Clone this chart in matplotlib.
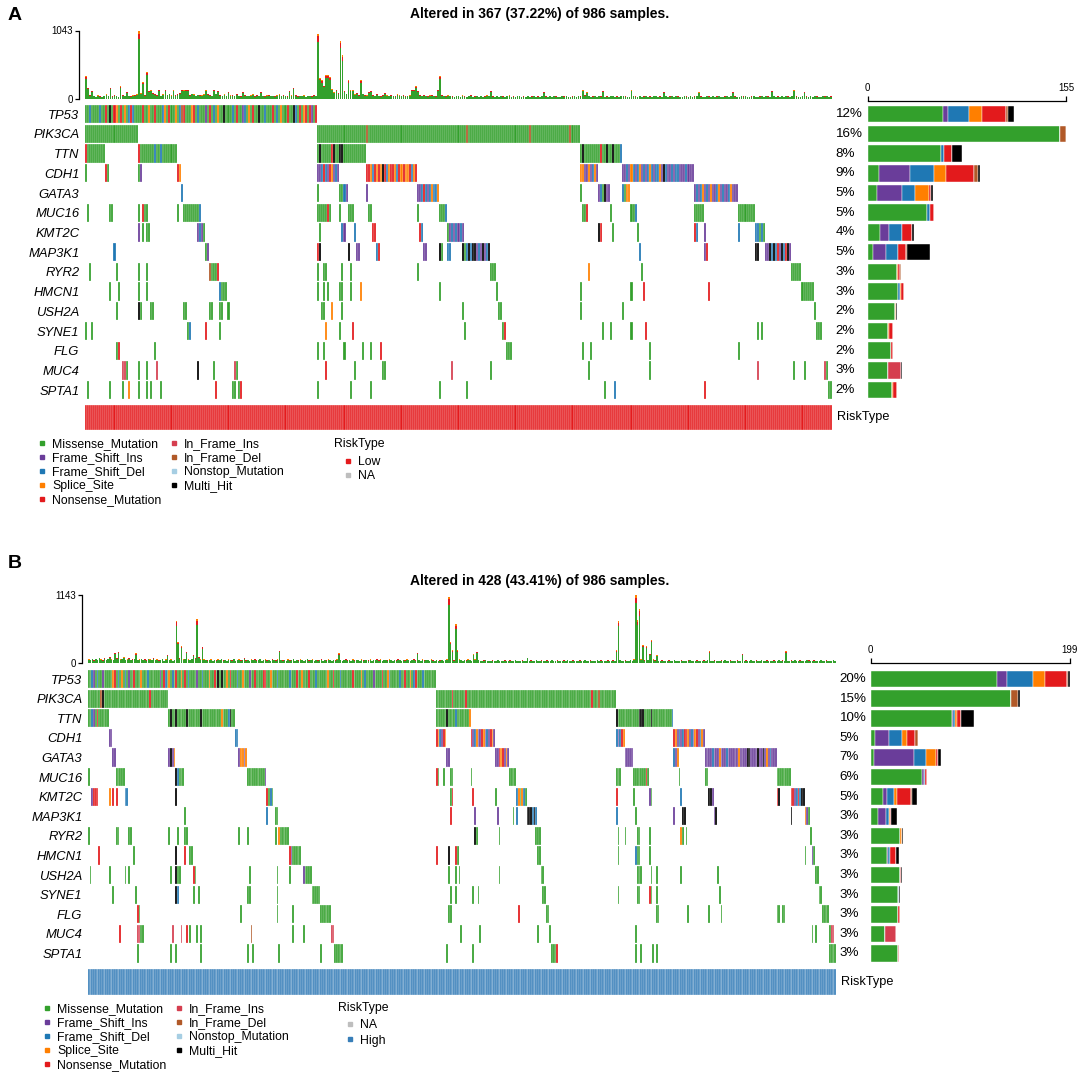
import matplotlib
matplotlib.use("Agg")
import matplotlib.pyplot as plt
from matplotlib.lines import Line2D
from matplotlib.transforms import blended_transform_factory
import numpy as np

plt.rcParams['font.family'] = ['Liberation Sans', 'DejaVu Sans']

# ---------------------------------------------------------------- data
GENES = ["TP53", "PIK3CA", "TTN", "CDH1", "GATA3", "MUC16", "KMT2C", "MAP3K1",
         "RYR2", "HMCN1", "USH2A", "SYNE1", "FLG", "MUC4", "SPTA1"]

TYPE_CODES = ["M", "I", "D", "S", "N", "P", "E", "T", "X"]
TYPE_NAMES = ["Missense_Mutation", "Frame_Shift_Ins", "Frame_Shift_Del", "Splice_Site",
              "Nonsense_Mutation", "In_Frame_Ins", "In_Frame_Del", "Nonstop_Mutation", "Multi_Hit"]
TYPE_COLORS = ["#33A02C", "#6A3D9A", "#1F78B4", "#FF7F00", "#E31A1C",
               "#D53E4F", "#B15928", "#A6CEE3", "#000000"]

RISK_LEVELS = ["Low", "High", "NA"]
RISK_COLORS = ["#E41A1C", "#377EB8", "#BEBEBE"]

N_A = 367
N_B = 428
TITLE_A = "Altered in 367 (37.22%) of 986 samples."
TITLE_B = "Altered in 428 (43.41%) of 986 samples."
TMB_MAX_A = 1043
TMB_MAX_B = 1143
BAR_MAX_A = 155
BAR_MAX_B = 199
PCT_A = [12, 16, 8, 9, 5, 5, 4, 5, 3, 3, 2, 2, 2, 3, 2]
PCT_B = [20, 15, 10, 5, 7, 6, 5, 3, 3, 3, 3, 3, 3, 3, 3]
RISK_A = ["Low"] * N_A
RISK_B = ["High"] * N_B
RISK_LEGEND_A = ["Low", "NA"]
RISK_LEGEND_B = ["NA", "High"]

# per-sample mutation burden (top bar plot)
TMB_A = [
    344, 172, 60, 120, 45, 30, 55, 40, 35, 50, 70, 45, 167, 40, 56, 50, 35, 192, 60, 45,
    106, 50, 40, 55, 60, 70, 1033, 85, 253, 60, 415, 120, 130, 90, 75, 60, 142, 50, 70, 142,
    65, 80, 55, 132, 60, 75, 90, 142, 130, 142, 135, 60, 80, 70, 50, 65, 60, 55, 70, 130,
    75, 60, 50, 142, 80, 120, 60, 50, 70, 45, 106, 55, 60, 45, 75, 50, 40, 106, 60, 50,
    45, 55, 70, 40, 60, 50, 106, 45, 40, 55, 60, 45, 50, 40, 55, 70, 45, 60, 50, 40,
    120, 55, 167, 60, 40, 50, 45, 55, 35, 50, 45, 40, 60, 50, 992, 324, 283, 200, 360, 370,
    334, 150, 100, 140, 90, 881, 663, 120, 80, 283, 130, 132, 70, 90, 60, 283, 80, 60, 55, 106,
    120, 60, 45, 75, 50, 40, 60, 90, 55, 45, 60, 50, 40, 70, 55, 45, 60, 40, 50, 55,
    142, 136, 192, 120, 60, 45, 56, 50, 40, 55, 60, 45, 40, 136, 344, 60, 50, 40, 55, 45,
    40, 35, 50, 45, 30, 55, 40, 35, 45, 60, 30, 40, 50, 35, 45, 30, 40, 55, 45, 120,
    40, 30, 45, 35, 50, 40, 30, 45, 55, 35, 40, 30, 45, 50, 35, 40, 30, 45, 35, 40,
    50, 35, 40, 30, 45, 110, 40, 35, 50, 30, 45, 40, 35, 30, 50, 40, 45, 35, 30, 40,
    45, 35, 50, 40, 130, 60, 100, 45, 35, 40, 50, 30, 45, 40, 120, 35, 40, 30, 45, 50,
    35, 40, 30, 45, 50, 40, 35, 30, 130, 45, 40, 35, 50, 30, 40, 45, 35, 40, 30, 50,
    45, 35, 40, 30, 110, 45, 35, 40, 50, 30, 45, 40, 35, 30, 50, 40, 35, 45, 30, 40,
    45, 100, 40, 35, 30, 45, 40, 35, 50, 30, 40, 45, 35, 30, 40, 50, 35, 45, 110, 40,
    35, 30, 45, 40, 50, 35, 30, 40, 45, 35, 30, 40, 50, 35, 45, 40, 30, 120, 45, 35,
    40, 30, 45, 35, 50, 40, 30, 45, 130, 40, 35, 30, 45, 110, 40, 35, 50, 30, 45, 40,
    35, 30, 45, 40, 50, 35, 40,
]
TMB_B = [
    60, 50, 75, 45, 70, 55, 90, 60, 45, 80, 55, 70, 100, 60, 50, 174, 85, 190, 60, 70,
    95, 55, 60, 80, 50, 65, 70, 162, 55, 60, 75, 50, 65, 45, 70, 60, 55, 80, 50, 60,
    45, 55, 70, 40, 60, 134, 50, 60, 40, 55, 711, 358, 80, 286, 60, 70, 190, 60, 55, 70,
    134, 80, 734, 100, 60, 274, 60, 50, 45, 55, 60, 40, 55, 45, 60, 50, 70, 45, 55, 40,
    60, 50, 45, 70, 40, 55, 60, 45, 50, 80, 45, 55, 40, 60, 50, 65, 45, 55, 70, 40,
    55, 60, 45, 50, 40, 65, 55, 45, 60, 207, 50, 45, 55, 40, 60, 45, 50, 70, 40, 55,
    45, 60, 50, 40, 55, 70, 45, 50, 60, 40, 55, 45, 50, 65, 40, 55, 45, 60, 50, 40,
    55, 45, 60, 162, 50, 40, 55, 65, 45, 50, 40, 60, 45, 55, 50, 40, 60, 45, 55, 50,
    45, 60, 40, 55, 50, 65, 45, 60, 40, 50, 55, 45, 60, 50, 40, 55, 45, 65, 50, 40,
    55, 45, 60, 50, 40, 55, 65, 45, 174, 50, 40, 60, 45, 55, 50, 40, 60, 45, 35, 50,
    40, 45, 55, 35, 50, 60, 1115, 355, 214, 45, 650, 218, 60, 50, 40, 55, 45, 60, 50, 40,
    146, 60, 185, 50, 40, 35, 45, 50, 30, 40, 35, 45, 30, 40, 50, 35, 40, 30, 45, 40,
    35, 45, 30, 40, 50, 35, 40, 30, 45, 35, 40, 90, 30, 45, 40, 35, 50, 30, 40, 45,
    35, 30, 45, 40, 35, 50, 30, 40, 45, 35, 40, 30, 45, 35, 50, 40, 30, 45, 35, 40,
    30, 45, 40, 35, 50, 30, 40, 45, 35, 30, 40, 50, 35, 45, 30, 40, 35, 45, 30, 40,
    45, 35, 214, 706, 50, 40, 35, 45, 30, 40, 50, 35, 60, 1143, 723, 902, 60, 297, 45, 280,
    50, 157, 392, 60, 45, 130, 40, 35, 45, 30, 40, 35, 45, 30, 40, 50, 35, 40, 30, 45,
    35, 40, 30, 45, 50, 35, 40, 30, 45, 35, 40, 30, 45, 35, 50, 196, 40, 30, 45, 35,
    40, 30, 45, 35, 50, 40, 30, 45, 35, 40, 30, 45, 35, 40, 157, 30, 45, 40, 35, 50,
    30, 40, 45, 35, 30, 50, 40, 35, 45, 30, 40, 35, 45, 30, 40, 50, 35, 45, 30, 196,
    40, 35, 45, 30, 50, 40, 35, 45, 30, 40, 35, 50, 45, 40, 35, 45, 30, 40, 35, 50,
    40, 35, 45, 30, 40, 35, 50, 40,
]
TMB_SHARE_MISSENSE = 0.88
TMB_SHARE_NONSENSE = 0.08

# oncoplot cells: "a-b:T" = samples a..b-1 of type T, "a:XYZ" = types from sample a on
A_TP53 = ["0:" + "MMDMMMMDMM" "NMXMNSMNMS" "MDNDMMMMNM" "MSMMNMMMDS" "MNMMSMDENM"
          "MMSNMDMMMI" "MNMDMSMMXM" "MMDMNMMIDM" "SMNMMXMMDM" "MMNMDMSMMN" "MMXDMNMSNM" "NIMN"]
A_PIK3CA = ["0-26:M", "114-243:M", "138:E", "187:E", "218:E", "238:E"]
A_TTN = ["0-10:M", "0:N", "26-45:M", "26:N", "34:D", "37:D", "114-138:M", "115:X", "121:NX",
         "125:XX", "243-264:M", "244:X", "253:N", "256:X", "259:X", "263:D"]
A_CDH1 = ["0:M", "10:NM", "26:MI", "45:NS", "114:IIDNDINSIDI", "138:NNSDNSNSXNDSNNSDNSNSSNDSN",
          "243:SSIISIDSI", "264:IIDISDIDSIDIDSDIDDSIXDIIDIDDIIIDIII"]
A_GATA3 = ["47:D", "114:M", "125:MMDI", "138:I", "163:IIDNDIDSDDS", "243:M", "252:IDMXII",
           "264:DMSS", "299:IDIDSIDISIIDSIDIIDSIII"]
A_MUC16 = ["1:M", "12-14:M", "26:M", "28:N", "29:MM", "45:M", "48-57:M", "56:D", "114-121:M",
           "119:N", "125:M", "129-132:M", "139-141:M", "163:M", "174-178:M", "177:D", "244-247:M",
           "246:N", "258:M", "268-271:M", "270:D", "299-304:M", "321-329:M"]
A_KMT2C = ["26:I", "28:M", "30:MM", "55:IDIM", "115:M", "126:DI", "132:D", "141:NN", "164:ND",
           "178:MIDIDIDI", "252:XN", "259:M", "271:M", "299:ND", "304:I", "321:D", "329:DDMDM"]
A_MAP3K1 = ["14:D", "59:MI", "114:NX", "129:X", "133:II", "143:DN", "166:II", "174:XM", "178:DD",
            "185:XMDXDXXIDIXIDX", "272:D", "304:IN", "329:XX", "334:IIXDXDNIXDNXI"]
A_RYR2 = ["2:M", "15:M", "26:M", "30:M", "61:EMMMN", "114:M", "117:MM", "126:M", "130:M", "163:M",
          "199-202:M", "247:S", "273:M", "347-352:M"]
A_HMCN1 = ["12:M", "16:M", "26:M", "30:M", "66:DMMM", "114:M", "117:M", "119:M", "125:MM", "130:M",
           "135:S", "174:M", "202:M", "243:M", "268:M", "274:N", "306:N", "352-358:M"]
A_USH2A = ["15:M", "26:XM", "32-34:M", "48-50:M", "61-63:M", "66-68:M", "70:M", "116-118:M",
           "121:S", "126:M", "185:M", "203-205:M", "243:M", "264:M", "358:M"]
A_SYNE1 = ["0:M", "3:M", "50:MD", "59:N", "66:M", "118:S", "125:M", "131:N", "186:M", "205:MN",
           "254:M", "258:M", "268:M", "275:N", "330:M", "332:M", "359-362:M"]
A_FLG = ["15:MN", "34:M", "114:M", "117:M", "127:M", "136:M", "140:M", "145:N", "207-210:M",
         "244:M", "248:M", "277:M", "321:M"]
A_MUC4 = ["18:PPM", "26:M", "30:M", "35:P", "55:X", "63:M", "73:PM", "118:N", "132:M", "146-148:M",
          "180:P", "199:M", "247:M", "277:M", "330:P", "348:M", "353:M", "363:PM"]
A_SPTA1 = ["1:M", "12:M", "18:M", "21:S", "26:M", "30:M", "32:M", "37:M", "64:N", "72-74:M",
           "75:MN", "114:M", "130:M", "140:M", "174:M", "187:M", "255:M", "260:D", "304:N", "365-367:M"]

B_TP53 = ["0:" + "MMDIMDMMIM" "MMMMSNMDMS" "MDMIMMNMMM" "SMMMDMMMMM" "MIMNDMSMDM" "NMMSMNMDMM"
          "MMIMMDMMMS" "MMNMXMXMMS" "MNMMMDMMSM" "MMIMMNMMMM" "NNMMSMMMDM" "MMMMMDMMMN"
          "MMSMMMNMMM" "DMMMMMMSMM" "NMMMDMMMMM" "MNMMMMSMDM" "MMMIMMMMNM" "MSDMMMMMDM"
          "MNMMSMDNMM" "MDMMMMMMM"]
B_PIK3CA = ["0-46:M", "7:EX", "35:N", "199-302:M", "208:N", "216:N", "288:N", "292:E"]
B_TTN = ["0-12:M", "2:D", "3:I", "5:N", "46-84:M", "47:X", "50:X", "56:X", "64:X", "76:S", "80:DX",
         "199-219:M", "205:X", "210:D", "218:S", "302-335:M", "302:X", "315:XXX", "322:X", "334:D"]
B_CDH1 = ["12:II", "84:DD", "199:NSDINS", "219:NIDSIINSIDINSI", "302:DIDNS", "335:NSIDIDNNSIDISNIDSI"]
B_GATA3 = ["14:II", "46:IXIS", "86:ISSIS", "205:II", "233:IINSNISI", "307:IIIII", "335:DIS",
           "353:IIIIDIIISIIIDIIIIIISIIIIXXIIIIXIIXISIDIII"]
B_MUC16 = ["0:M", "16-21:M", "50:XDMMM", "91-102:M", "101:I", "199:NM", "203:M", "207:MM", "219:M",
           "241-245:M", "302-305:M", "312-321:M", "319:N", "338:M", "353:MM", "394-402:M"]
B_KMT2C = ["2:INNN", "12:S", "14:N", "16:N", "21:DD", "50:X", "102:NMDM", "207:MN", "220:N", "233:M",
           "245:DSMSDM", "302:N", "312:M", "321:IM", "339:D", "355:XXI", "394:NX", "402:NNIDNDXX"]
B_MAP3K1 = ["55:M", "102:D", "107:MM", "207:N", "221:I", "234:I", "243:M", "245:D", "251:XXXDXD",
            "302:D", "313:M", "335:I", "340:XX", "358:IX", "402:X", "410:SIM"]
B_RYR2 = ["0:M", "16-18:M", "23:MM", "46:M", "51:M", "55:MM", "86:M", "91:M", "107:M", "109:SMMMMM",
          "221:XM", "235:M", "256-259:M", "303:M", "307:M", "314:MM", "321:M", "339:SM", "342:M", "413:M"]
B_HMCN1 = ["6:N", "26:M", "50:X", "55:N", "58:MM", "115:NIMMMMM", "199:N", "206:X", "210:NM",
           "257:MM", "303:M", "313:DM", "315:M", "321:M", "410:M", "414:IM"]
B_USH2A = ["1:M", "12:M", "21:M", "23:M", "47:M", "50:XMM", "60:NM", "92:M", "108:M", "115:M",
           "123:IMMMM", "206:M", "210:M", "212:M", "235:M", "259:MM", "314:MM", "316:M", "322:M",
           "325:M", "339:M", "360:M", "416:MM"]
B_SYNE1 = ["14:M", "27:M", "50:XD", "60:M", "63:M", "91:MM", "108:M", "128:MMMMM", "207:M", "210:M",
           "220:M", "223:M", "260:MM", "303:M", "314:MM", "321:NM", "325:M", "361:M", "418:MM"]
B_FLG = ["28:NM", "87:M", "108:M", "117:M", "133-139:M", "206:MM", "246:N", "262:MM", "325:MM",
         "343:M", "355:M", "362:M", "394:MM", "397:MM", "420-424:M"]
B_MUC4 = ["18:N", "28:PPMM", "48:P", "53:P", "56:N", "58:M", "62:M", "64:M", "93:E", "117:M", "123:M",
          "139:PP", "213:M", "224:M", "257:M", "264:M", "313:M", "414:M", "416:M", "424:MPP"]
B_SPTA1 = ["28:M", "47:M", "50:M", "64:M", "91:M", "94:M", "109:M", "133:M", "141-146:M", "205:M",
           "220:M", "265:MMMN", "313:M", "316:M", "323:M", "325:M", "424-428:M"]

# right-hand stacked bars: variant counts per gene (gene order as GENES)
BAR_A_M = [59, 150, 57, 9, 7, 46, 10, 4, 23, 24, 21, 16, 18, 16, 19]
BAR_A_I = [4, 0, 0, 24, 20, 0, 7, 10, 0, 0, 0, 0, 0, 0, 0]
BAR_A_D = [16, 0, 3, 19, 10, 3, 10, 10, 0, 1, 0, 0, 0, 0, 0]
BAR_A_S = [10, 0, 0, 9, 11, 0, 0, 0, 1, 1, 1, 1, 0, 0, 1]
BAR_A_N = [19, 0, 6, 22, 1.5, 3, 8, 6, 1, 2, 0, 3, 2, 0, 3]
BAR_A_P = [0, 0, 0, 0, 0, 0, 0, 0, 0, 0, 0, 0, 0, 10, 0]
BAR_A_E = [2, 5, 0, 3, 0, 0, 0, 1, 1, 0, 0, 0, 0, 0, 0]
BAR_A_X = [4, 0, 8, 2, 1.5, 0, 1, 18, 0, 0, 1, 0, 0, 1, 0]

BAR_B_M = [126, 140, 81, 4, 3, 51, 12, 7, 29, 16, 29, 27, 27, 14, 27]
BAR_B_I = [10, 0, 1, 14, 40, 2, 4, 8, 0, 1, 0, 0, 0, 0, 0]
BAR_B_D = [26, 0, 2, 13, 12, 1, 7, 3, 0, 2, 0, 1, 0, 0, 0]
BAR_B_S = [12, 0, 2, 5, 10, 0, 3, 1, 2, 0, 0, 0, 0, 0, 0]
BAR_B_N = [22, 0, 4, 8, 2, 2, 14, 1, 0, 6, 1, 0, 2, 0, 1]
BAR_B_P = [0, 0, 0, 0, 0, 0, 0, 0, 0, 0, 0, 0, 0, 11, 0]
BAR_B_E = [1, 7, 0, 3, 0, 0, 1, 0, 0, 0, 0, 0, 0, 0, 0]
BAR_B_X = [2, 2, 13, 0, 3, 0, 5, 6, 1, 3, 1, 1, 0, 0, 0]

# ---------------------------------------------------------------- helpers
COL = dict(zip(TYPE_CODES, TYPE_COLORS))
NAME = dict(zip(TYPE_CODES, TYPE_NAMES))
RCOL = dict(zip(RISK_LEVELS, RISK_COLORS))

W, H = 1084, 1075
fig = plt.figure(figsize=(W / 100, H / 100), dpi=100)

LEG_FS = 8.8


def add_ax(x0, y0, x1, y1):
    return fig.add_axes([x0 / W, 1 - y1 / H, (x1 - x0) / W, (y1 - y0) / H])


def parse_row(specs, n):
    row = [""] * n
    for spec in specs:
        pos, codes = spec.split(":")
        if "-" in pos:
            a, b = (int(v) for v in pos.split("-"))
            for i in range(a, min(b, n)):
                row[i] = codes
        else:
            a = int(pos)
            for k, c in enumerate(codes):
                if a + k < n:
                    row[a + k] = c
    return row


def hide_spines(ax, keep=()):
    for s in ["top", "bottom", "left", "right"]:
        if s not in keep:
            ax.spines[s].set_visible(False)


def draw_panel(p):
    n = p["n"]
    x0, x1 = p["mx"]
    # --- top burden bar plot
    ax = add_ax(x0, p["tmb_y"][0], x1, p["tmb_y"][1])
    x = np.arange(n)
    tmb = np.asarray(p["tmb"], float)
    g = tmb * TMB_SHARE_MISSENSE
    r = tmb * TMB_SHARE_NONSENSE
    o = tmb - g - r
    ax.bar(x, g, width=0.85, color=COL["M"], linewidth=0)
    ax.bar(x, r, bottom=g, width=0.85, color=COL["N"], linewidth=0)
    ax.bar(x, o, bottom=g + r, width=0.85, color=COL["S"], linewidth=0)
    ax.set_xlim(-0.5, n - 0.5)
    ax.set_ylim(0, p["tmb_max"])
    hide_spines(ax, keep=("left",))
    ax.spines["left"].set_position(("outward", 4))
    ax.spines["left"].set_bounds(0, p["tmb_max"])
    ax.spines["left"].set_linewidth(0.9)
    ax.set_xticks([])
    ax.set_yticks([0, p["tmb_max"]])
    ax.tick_params(axis="y", labelsize=7, length=3, width=0.9, pad=1.5)

    # --- oncoplot matrix
    my0, my1 = p["mat_y"]
    axm = add_ax(x0, my0, x1, my1)
    cell_h = 0.93
    for gi, gene in enumerate(GENES):
        row = parse_row(p["onco"][gene], n)
        for t in TYPE_CODES:
            idx = [i for i, c in enumerate(row) if c == t]
            if idx:
                axm.bar(idx, cell_h, bottom=gi - cell_h / 2, width=1.0, color=COL[t],
                        edgecolor="white", linewidth=0.18)
    axm.set_xlim(-0.5, n - 0.5)
    axm.set_ylim(len(GENES) - 0.5, -0.5)
    axm.set_xticks([])
    axm.set_yticks(range(len(GENES)))
    axm.set_yticklabels(GENES, fontstyle="italic", fontsize=9.4)
    axm.tick_params(axis="y", length=0, pad=4)
    hide_spines(axm)
    trans = blended_transform_factory(axm.transAxes, axm.transData)
    for gi, pc in enumerate(p["pct"]):
        axm.text(1 + 3.5 / (x1 - x0), gi, f"{pc}%", transform=trans, ha="left",
                 va="center", fontsize=9.6)

    # --- right stacked bars
    bx0, bx1 = p["bar_x"]
    axb = add_ax(bx0, my0, bx1, my1)
    left = np.zeros(len(GENES))
    for t in TYPE_CODES:
        if t not in p["bars"]:
            continue
        vals = np.asarray(p["bars"][t], float)
        axb.barh(np.arange(len(GENES)), vals, left=left, height=0.84, color=COL[t],
                 edgecolor="white", linewidth=0.3)
        left += vals
    axb.set_xlim(0, p["bar_max"])
    axb.set_ylim(len(GENES) - 0.5, -0.5)
    hide_spines(axb, keep=("top",))
    axb.spines["top"].set_position(("outward", p["bar_axis_out"]))
    axb.spines["top"].set_bounds(0, p["bar_max"])
    axb.spines["top"].set_linewidth(0.9)
    axb.xaxis.tick_top()
    axb.set_xticks([0, p["bar_max"]])
    axb.set_yticks([])
    axb.tick_params(axis="x", labelsize=7, length=3.5, width=0.9, pad=2)

    # --- risk annotation
    ry0, ry1 = p["risk_y"]
    axr = add_ax(x0, ry0, x1, ry1)
    axr.bar(np.arange(n), 1, width=1.0, color=[RCOL[v] for v in p["risk"]],
            edgecolor="white", linewidth=0.2)
    axr.set_xlim(-0.5, n - 0.5)
    axr.set_ylim(0, 1)
    axr.set_xticks([])
    axr.set_yticks([])
    hide_spines(axr)
    axr.text(1 + 5 / (x1 - x0), 0.5, "RiskType", transform=axr.transAxes, ha="left",
             va="center", fontsize=9.2)

    # --- titles
    fig.text(p["label_xy"][0] / W, 1 - p["label_xy"][1] / H, p["label"], fontsize=14,
             fontweight="bold", ha="left", va="center")
    fig.text(p["title_xy"][0] / W, 1 - p["title_xy"][1] / H, p["title"], fontsize=10,
             fontweight="bold", ha="center", va="center")

    # --- legends
    lx, ly = p["leg_xy"]
    handles = [Line2D([0], [0], marker="s", linestyle="none", markersize=3.3,
                      markerfacecolor=COL[t], markeredgecolor=COL[t], label=NAME[t])
               for t in TYPE_CODES]
    fig.legend(handles=handles, loc="upper left", bbox_to_anchor=(lx / W, 1 - ly / H),
               ncol=2, frameon=False, fontsize=LEG_FS, handlelength=0.9, handletextpad=0.4,
               columnspacing=0.55, labelspacing=0.16, borderpad=0, borderaxespad=0)
    tx, ty = p["rtitle_xy"]
    fig.text(tx / W, 1 - ty / H, "RiskType", fontsize=LEG_FS, ha="left", va="center")
    rx, ry = p["rleg_xy"]
    rh = [Line2D([0], [0], marker="s", linestyle="none", markersize=3.3,
                 markerfacecolor=RCOL[v], markeredgecolor=RCOL[v], label=v)
          for v in p["risk_legend"]]
    fig.legend(handles=rh, loc="upper left", bbox_to_anchor=(rx / W, 1 - ry / H),
               frameon=False, fontsize=LEG_FS, handlelength=0.9, handletextpad=0.4,
               labelspacing=p["rleg_space"], borderpad=0, borderaxespad=0)


panel_a = dict(
    n=N_A, tmb=TMB_A, tmb_max=TMB_MAX_A, mx=(85, 832), tmb_y=(30.5, 99), mat_y=(104.3, 400),
    bar_x=(867.7, 1066), bar_max=BAR_MAX_A, bar_axis_out=2.5, risk_y=(405, 429.5),
    pct=PCT_A, risk=RISK_A, risk_legend=RISK_LEGEND_A, label="A", label_xy=(8, 16),
    title=TITLE_A, title_xy=(540, 14), leg_xy=(36.5, 438.5), rtitle_xy=(334, 444),
    rleg_xy=(342.5, 456), rleg_space=0.16,
    onco={"TP53": A_TP53, "PIK3CA": A_PIK3CA, "TTN": A_TTN, "CDH1": A_CDH1, "GATA3": A_GATA3,
          "MUC16": A_MUC16, "KMT2C": A_KMT2C, "MAP3K1": A_MAP3K1, "RYR2": A_RYR2,
          "HMCN1": A_HMCN1, "USH2A": A_USH2A, "SYNE1": A_SYNE1, "FLG": A_FLG, "MUC4": A_MUC4,
          "SPTA1": A_SPTA1},
    bars={"M": BAR_A_M, "I": BAR_A_I, "D": BAR_A_D, "S": BAR_A_S, "N": BAR_A_N,
          "P": BAR_A_P, "E": BAR_A_E, "X": BAR_A_X},
)
panel_b = dict(
    n=N_B, tmb=TMB_B, tmb_max=TMB_MAX_B, mx=(88, 836), tmb_y=(595, 663), mat_y=(669.3, 963.3),
    bar_x=(870.7, 1070), bar_max=BAR_MAX_B, bar_axis_out=4.5, risk_y=(969.3, 995),
    pct=PCT_B, risk=RISK_B, risk_legend=RISK_LEGEND_B, label="B", label_xy=(8, 563),
    title=TITLE_B, title_xy=(540, 581), leg_xy=(41.5, 1003), rtitle_xy=(338, 1008.5),
    rleg_xy=(344.5, 1019), rleg_space=0.3,
    onco={"TP53": B_TP53, "PIK3CA": B_PIK3CA, "TTN": B_TTN, "CDH1": B_CDH1, "GATA3": B_GATA3,
          "MUC16": B_MUC16, "KMT2C": B_KMT2C, "MAP3K1": B_MAP3K1, "RYR2": B_RYR2,
          "HMCN1": B_HMCN1, "USH2A": B_USH2A, "SYNE1": B_SYNE1, "FLG": B_FLG, "MUC4": B_MUC4,
          "SPTA1": B_SPTA1},
    bars={"M": BAR_B_M, "I": BAR_B_I, "D": BAR_B_D, "S": BAR_B_S, "N": BAR_B_N,
          "P": BAR_B_P, "E": BAR_B_E, "X": BAR_B_X},
)

draw_panel(panel_a)
draw_panel(panel_b)

fig.savefig("out.png", dpi=100, facecolor="white")
